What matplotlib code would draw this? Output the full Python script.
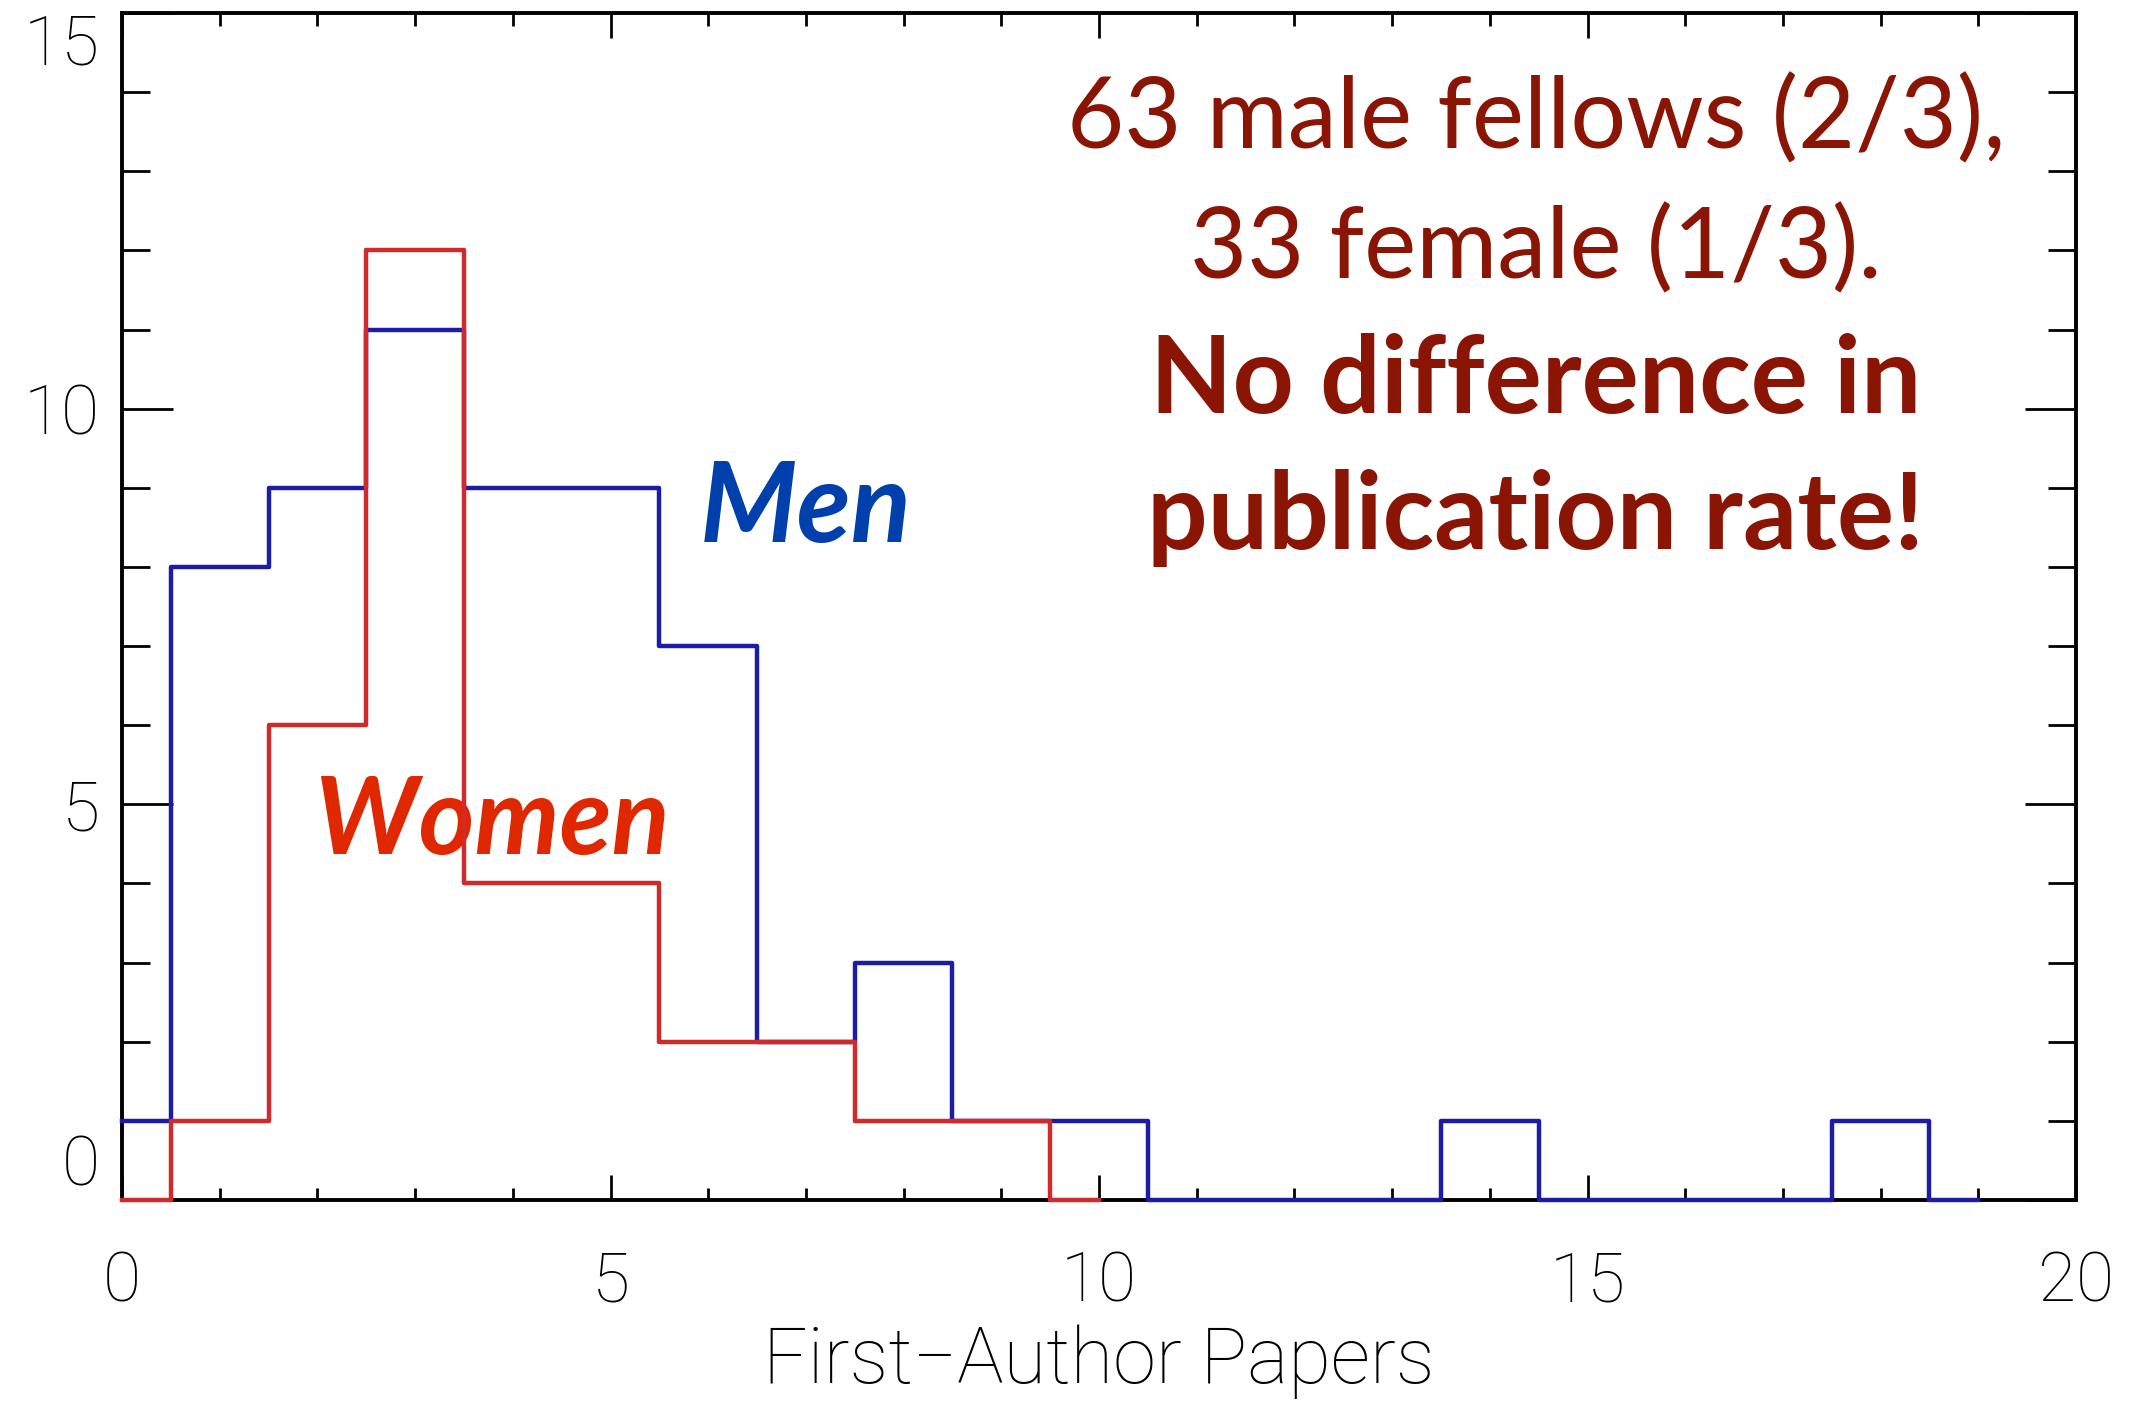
import matplotlib
matplotlib.use("Agg")
import matplotlib.pyplot as plt
from matplotlib.ticker import MultipleLocator, FixedLocator

# ---- data ----
men_x = list(range(0, 20))
men_counts = [1, 8, 9, 11, 9, 9, 7, 2, 3, 1, 1, 0, 0, 0, 1, 0, 0, 0, 1, 0]
women_x = list(range(0, 11))
women_counts = [0, 1, 6, 12, 4, 4, 2, 2, 1, 1, 0]
x_ticks = [0, 5, 10, 15, 20]
y_ticks = [0, 5, 10, 15]
x_label = "First\u2212Author Papers"
note_lines = ["63 male fellows (2/3),", "33 female (1/3).",
              "No difference in", "publication rate!"]

W, H = 2132, 1401
fig = plt.figure(figsize=(W / 100, H / 100), dpi=100)
L, R, T, B = 122, 2076, 13, 1200
ax = fig.add_axes([L / W, 1 - B / H, (R - L) / W, (B - T) / H])

ax.step(men_x, men_counts, where="mid", color="#1c1ca6", lw=3.2,
        zorder=3, clip_on=False)
ax.step(women_x, women_counts, where="mid", color="#d02a2a", lw=3.2,
        zorder=4, clip_on=False)

ax.set_xlim(0, 20)
ax.set_ylim(0, 15)
for s in ax.spines.values():
    s.set_linewidth(2.8)

ax.xaxis.set_major_locator(FixedLocator(x_ticks))
ax.yaxis.set_major_locator(FixedLocator(y_ticks))
ax.xaxis.set_minor_locator(MultipleLocator(1))
ax.yaxis.set_minor_locator(MultipleLocator(1))

tick_font = ["Roboto", "DejaVu Sans"]
ax.tick_params(axis="x", which="major", direction="in", length=18, width=2,
               top=True, bottom=True, pad=36, labelsize=50)
ax.tick_params(axis="x", which="minor", direction="in", length=9, width=2,
               top=True, bottom=True)
ax.tick_params(axis="y", which="major", direction="in", length=37, width=2,
               left=True, right=True, pad=16, labelsize=50)
ax.tick_params(axis="y", which="minor", direction="in", length=20, width=2,
               left=True, right=True)
ax.set_xticklabels([str(v) for v in x_ticks], family=tick_font,
                   fontweight="light")
ax.set_yticklabels([str(v) for v in y_ticks], family=tick_font,
                   fontweight="light")
yt = ax.yaxis.get_major_ticks()
yt[0].label1.set_va("bottom")
yt[-1].label1.set_va("top")

ax.set_xlabel(x_label, fontsize=56, family=tick_font, fontweight="light")
ax.xaxis.label.set_va("baseline")
ax.xaxis.set_label_coords(0.5, -0.1542)

text_font = ["Lato", "DejaVu Sans"]
dark_red = "#8a1505"
cx = 0.7236
ax.text(cx, 0.8859, note_lines[0], transform=ax.transAxes, ha="center",
        va="baseline", fontsize=71, color=dark_red, family=text_font)
ax.text(cx, 0.7762, note_lines[1], transform=ax.transAxes, ha="center",
        va="baseline", fontsize=71, color=dark_red, family=text_font)
ax.text(cx, 0.6634, note_lines[2], transform=ax.transAxes, ha="center",
        va="baseline", fontsize=77, color=dark_red, family=text_font,
        fontweight="bold")
ax.text(cx, 0.5484, note_lines[3], transform=ax.transAxes, ha="center",
        va="baseline", fontsize=77, color=dark_red, family=text_font,
        fontweight="bold")

ax.text(0.2958, 0.5543, "Men", transform=ax.transAxes, ha="left",
        va="baseline", fontsize=80, color="#0040ac", family=text_font,
        fontweight="bold", fontstyle="italic")
ax.text(0.0988, 0.2915, "Women", transform=ax.transAxes, ha="left",
        va="baseline", fontsize=77, color="#e02800", family=text_font,
        fontweight="bold", fontstyle="italic")

fig.savefig("out.png", dpi=100)
